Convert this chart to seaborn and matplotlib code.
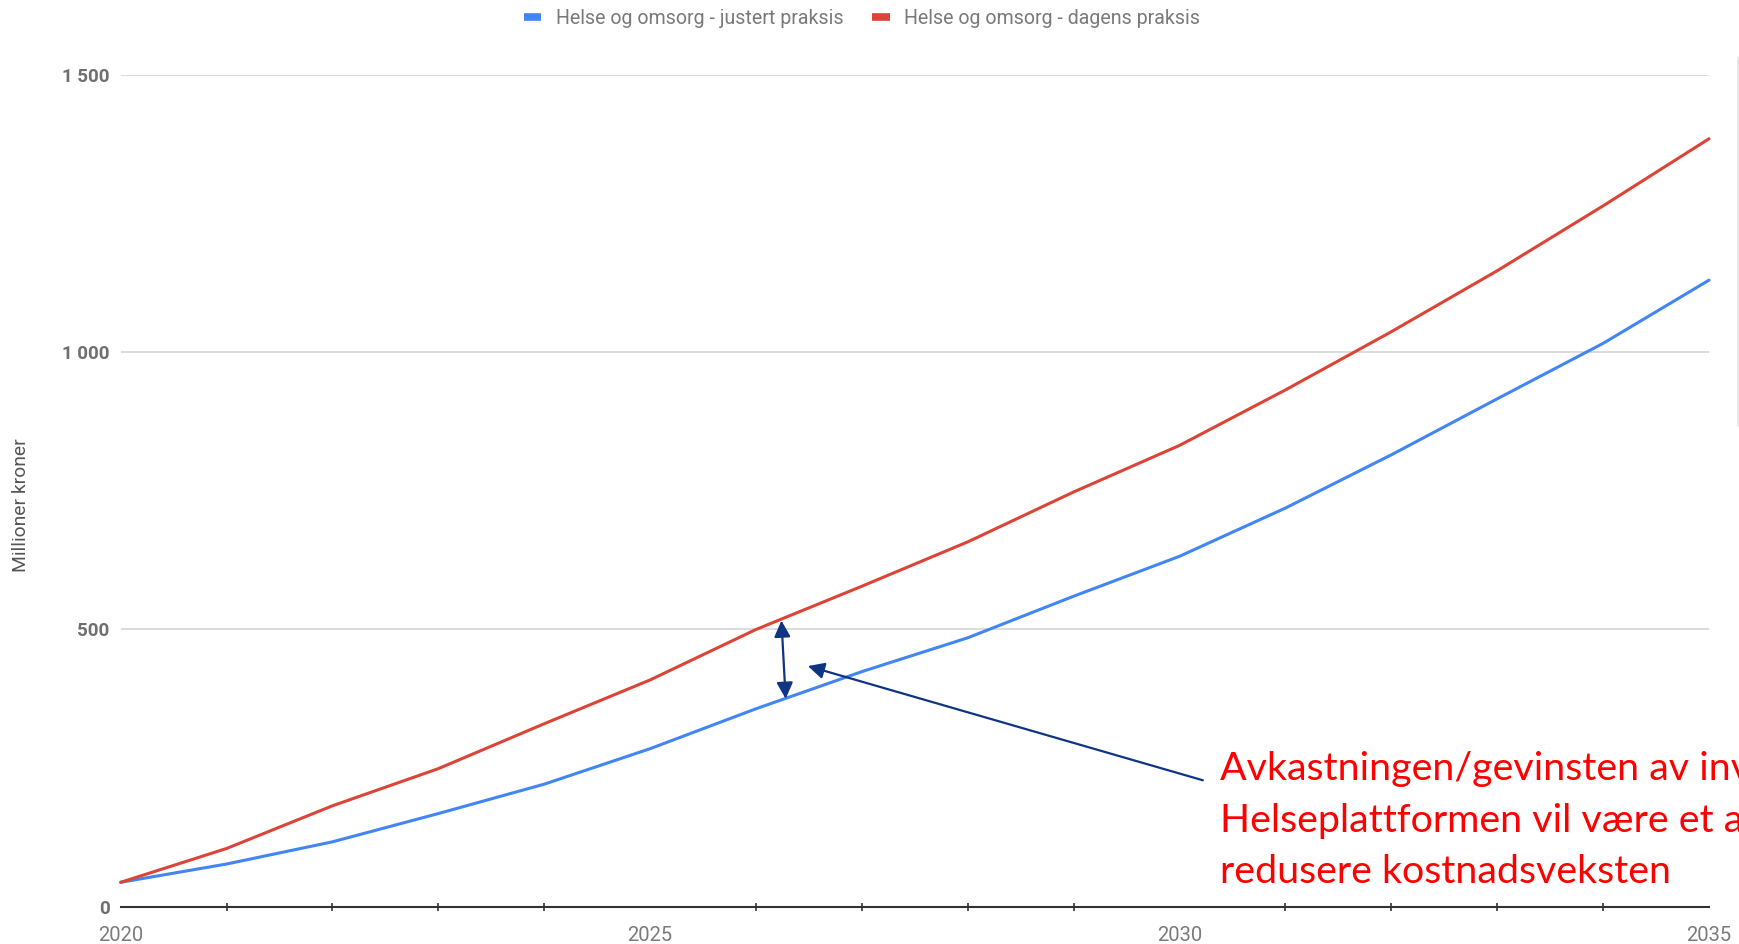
import matplotlib
matplotlib.use("Agg")
import matplotlib.pyplot as plt
from matplotlib.lines import Line2D
import seaborn as sns
import pandas as pd

# Data: projected costs, million NOK
years = list(range(2020, 2036))
justert = [44, 77, 117, 168, 221, 285, 357, 424, 485, 560, 632, 719, 815, 916, 1016, 1130]
dagens = [44, 105, 182, 249, 330, 409, 500, 578, 658, 748, 832, 932, 1037, 1147, 1264, 1385]

series_names = ["Helse og omsorg - justert praksis", "Helse og omsorg - dagens praksis"]
series_colors = ["#4285F4", "#DB4437"]
yticks = [0, 500, 1000, 1500]
ytick_labels = ["0", "500", "1 000", "1 500"]
xticks_major = [2020, 2025, 2030, 2035]
ylabel = "Millioner kroner"
note_lines = [
    "Avkastningen/gevinsten av investeringen i",
    "Helseplattformen vil være et av tiltakene for å",
    "redusere kostnadsveksten",
]

df = pd.DataFrame({
    "År": years * 2,
    "Kostnad": justert + dagens,
    "Serie": [series_names[0]] * len(years) + [series_names[1]] * len(years),
})

sns.set_theme(style="white")
plt.rcParams["font.family"] = ["Roboto", "DejaVu Sans"]

W, H = 1739, 944
fig = plt.figure(figsize=(W / 100, H / 100), dpi=100)
ax = fig.add_axes([120.7 / W, 1 - 906.7 / H, (1709 - 120.7) / W, (906.7 - 75) / H])

sns.lineplot(data=df, x="År", y="Kostnad", hue="Serie", hue_order=series_names,
             palette=series_colors, linewidth=2.2, ax=ax, legend=False)
for ln in ax.lines:
    ln.set_clip_on(False)
    ln.set_solid_joinstyle("round")

ax.set_xlim(2020, 2035)
ax.set_ylim(0, 1500)

# horizontal gridlines
ax.set_yticks(yticks)
ax.set_yticklabels(ytick_labels)
ax.yaxis.grid(True, color="#d9d9d9", linewidth=1.3)
ax.xaxis.grid(False)
ax.set_axisbelow(True)
ax.tick_params(axis="y", length=0, pad=8, labelsize=13.5, labelcolor="#6f6f6f")
for t in ax.get_yticklabels():
    t.set_fontweight("bold")

# x axis: dark baseline with crossing ticks
for side in ["top", "right", "left"]:
    ax.spines[side].set_visible(False)
ax.spines["bottom"].set_color("#333333")
ax.spines["bottom"].set_linewidth(1.5)
ax.set_xticks(xticks_major)
ax.set_xticklabels([str(y) for y in xticks_major])
ax.set_xticks([y for y in years if y not in xticks_major], minor=True)
ax.tick_params(axis="x", which="major", direction="inout", length=11.5, width=1.2,
               color="#333333", pad=8, labelsize=14.5, labelcolor="#7a7a7a")
ax.tick_params(axis="x", which="minor", direction="inout", length=5.8, width=1.2,
               color="#333333", bottom=True)

ax.set_xlabel("")
ax.set_ylabel("")
fig.text(21 / W, 1 - 505 / H, ylabel, rotation=90, ha="center", va="center",
         fontsize=13.9, color="#555555")

# legend across the top
handles = [Line2D([0], [0], color=c, lw=5.5, solid_capstyle="butt") for c in series_colors]
leg = fig.legend(handles, series_names, loc="center", bbox_to_anchor=(862 / W, 1 - 18 / H),
                 ncol=2, frameon=False, fontsize=14.1, handlelength=0.9, handletextpad=0.75,
                 columnspacing=1.45, labelcolor="#7a7a7a")

# gap arrow between the two scenarios
arrow_color = "#0E3484"
ax.annotate("", xy=(2026.24, 516), xytext=(2026.28, 375),
            arrowprops=dict(arrowstyle="<|-|>,head_length=0.7,head_width=0.35",
                            mutation_scale=14, color=arrow_color, lw=1.6,
                            shrinkA=0, shrinkB=0), annotation_clip=False)
ax.annotate("", xy=(2026.49, 434), xytext=(2030.22, 228),
            arrowprops=dict(arrowstyle="-|>,head_length=0.7,head_width=0.35",
                            mutation_scale=14, color=arrow_color, lw=1.6,
                            shrinkA=0, shrinkB=0), annotation_clip=False)

fig.text(1220 / W, 1 - 751 / H, "\n".join(note_lines), ha="left", va="top",
         fontsize=28.4, color="#FF0000", family=["Lato", "DejaVu Sans"], linespacing=1.52)

# edge of neighbouring panel
fig.add_artist(Line2D([1738 / W, 1738 / W], [1 - 58 / H, 1 - 425 / H],
                      color="#e6e6e6", lw=2))

fig.savefig("out.png", dpi=100)
